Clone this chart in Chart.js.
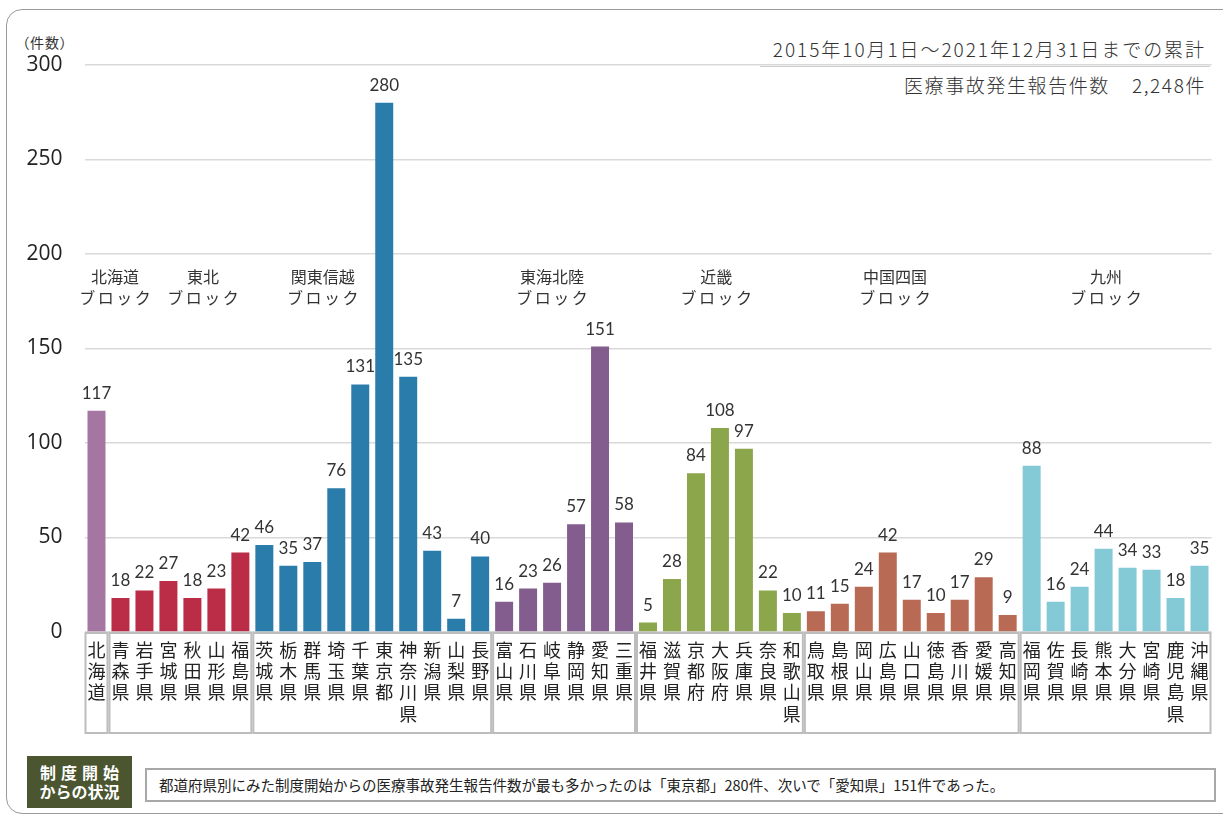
<!DOCTYPE html>
<html><head><meta charset="utf-8">
<script src="https://cdn.jsdelivr.net/npm/chart.js@4"></script>
<style>
html,body{margin:0;padding:0;background:#fff;}
body{width:1223px;height:818px;overflow:hidden;position:relative;font-family:'Noto Sans CJK JP',sans-serif;color:#222;}
#frame{position:absolute;left:6px;top:9px;width:1300px;height:805px;border:1.5px solid #9a9a9a;border-radius:16px;box-sizing:border-box;}
#unit{position:absolute;left:22px;top:33px;font-size:14px;line-height:18px;color:#333;font-feature-settings:'palt';letter-spacing:1px;}
#period{position:absolute;right:17px;top:36px;font-size:19px;line-height:26px;color:#333;white-space:nowrap;letter-spacing:1.95px;font-weight:300;}
#rule{position:absolute;left:760px;top:66px;width:450px;height:1px;background:#cfcfcf;}
#total{position:absolute;right:17px;top:72px;font-size:19px;line-height:26px;color:#333;white-space:nowrap;letter-spacing:1.6px;font-weight:300;}
#c{position:absolute;left:0;top:0;}
#badge{position:absolute;left:27px;top:756px;width:105px;height:52px;background:#4b5631;color:#fff;font-weight:bold;font-size:16px;line-height:19px;text-align:center;box-sizing:border-box;padding-top:7px;}
#badge .sp{letter-spacing:5px;margin-right:-5px;}
#note{position:absolute;left:145px;top:768px;width:1071px;height:34px;border:2px solid #a8a8a8;box-sizing:border-box;font-size:14.5px;line-height:30px;padding-left:12px;color:#222;white-space:nowrap;}
</style></head><body>
<div id="frame"></div>
<div id="unit">（件数）</div>
<div id="period">2015年10月1日～2021年12月31日までの累計</div>
<div id="rule"></div>
<div id="total">医療事故発生報告件数<span style="margin-left:22px">2,248件</span></div>
<canvas id="c" width="1223" height="740"></canvas>
<div id="badge"><span class="sp">制度開始</span><br>からの状況</div>
<div id="note">都道府県別にみた制度開始からの医療事故発生報告件数が最も多かったのは「東京都」280件、次いで「愛知県」151件であった。</div>
<script>
const prefectures = ['北海道','青森県','岩手県','宮城県','秋田県','山形県','福島県',
  '茨城県','栃木県','群馬県','埼玉県','千葉県','東京都','神奈川県','新潟県','山梨県','長野県',
  '富山県','石川県','岐阜県','静岡県','愛知県','三重県',
  '福井県','滋賀県','京都府','大阪府','兵庫県','奈良県','和歌山県',
  '鳥取県','島根県','岡山県','広島県','山口県','徳島県','香川県','愛媛県','高知県',
  '福岡県','佐賀県','長崎県','熊本県','大分県','宮崎県','鹿児島県','沖縄県'];
const counts = [117,18,22,27,18,23,42,
  46,35,37,76,131,280,135,43,7,40,
  16,23,26,57,151,58,
  5,28,84,108,97,22,10,
  11,15,24,42,17,10,17,29,9,
  88,16,24,44,34,33,18,35];
const blockNames = ['北海道','東北','関東信越','東海北陸','近畿','中国四国','九州'];
const blockSizes = [1,6,10,6,7,9,8];
const yTicks = [0,50,100,150,200,250,300];

const blockColors = ['#a676a2','#bb2c47','#2a7dab','#845d8f','#8ba64b','#b86a54','#83c9d6'];
const blockLabelAt = [0.77,4.44,9.44,19.0,25.85,33.3,42.1];

const barColors = [];
blockSizes.forEach((n,b)=>{ for(let k=0;k<n;k++) barColors.push(blockColors[b]); });

const overlay = {
  id:'overlay',
  afterDatasetsDraw(chart){
    const ctx = chart.ctx, xs = chart.scales.x, ys = chart.scales.y, area = chart.chartArea;
    const step = xs.getPixelForValue(1) - xs.getPixelForValue(0);
    ctx.save();
    ctx.font = '17px Lato, "Noto Sans CJK JP", sans-serif';
    ctx.fillStyle = '#333';
    ctx.textAlign = 'center';
    ctx.textBaseline = 'bottom';
    chart.getDatasetMeta(0).data.forEach((bar,i)=>{
      ctx.fillText(String(counts[i]), bar.x, bar.y - 9);
    });
    let start = 0;
    ctx.strokeStyle = '#bdbdbd';
    ctx.lineWidth = 2;
    blockSizes.forEach((n,b)=>{
      const l = xs.getPixelForValue(start) - step/2 + 1;
      const r = xs.getPixelForValue(start+n-1) + step/2 - 1;
      ctx.strokeRect(l, area.bottom + 1, r - l, 100);
      const cx = xs.getPixelForValue(blockLabelAt[b]);
      const y1 = ys.getPixelForValue(188);
      ctx.fillStyle = '#333';
      ctx.textBaseline = 'middle';
      ctx.font = '16px "Noto Sans CJK JP", sans-serif';
      ctx.letterSpacing = '0px';
      ctx.fillText(blockNames[b], cx, y1);
      ctx.letterSpacing = '2.5px';
      ctx.fillText('ブロック', cx + 1.2, y1 + 21);
      ctx.letterSpacing = '0px';
      start += n;
    });
    ctx.restore();
  }
};

new Chart(document.getElementById('c'), {
  type:'bar',
  data:{
    labels: prefectures.map(p => p.split('')),
    datasets:[{ data: counts, backgroundColor: barColors, borderWidth:0,
      barPercentage:0.75, categoryPercentage:1 }]
  },
  options:{
    responsive:false, animation:false, devicePixelRatio:1,
    layout:{ padding:{ top:65, right:11.5, left:0, bottom:0 } },
    plugins:{ legend:{display:false}, tooltip:{enabled:false} },
    scales:{
      x:{
        grid:{ display:false, drawTicks:false },
        border:{ display:false },
        ticks:{ autoSkip:false, maxRotation:0, minRotation:0, padding:8, color:'#222',
          font:{ family:'"Noto Sans CJK JP", sans-serif', size:18, lineHeight:1.17 } },
        afterFit(s){ s.height = 108; }
      },
      y:{
        min:0, max:300,
        afterBuildTicks(s){ s.ticks = yTicks.map(v=>({value:v})); },
        grid:{ color:'#d9d9d9', lineWidth:1.5, drawTicks:false },
        border:{ display:false },
        ticks:{ padding:22, color:'#222', font:{ family:'"Open Sans", sans-serif', size:21 } },
        afterFit(s){ s.width = 84.5; }
      }
    }
  },
  plugins:[overlay]
});
</script>
</body></html>
